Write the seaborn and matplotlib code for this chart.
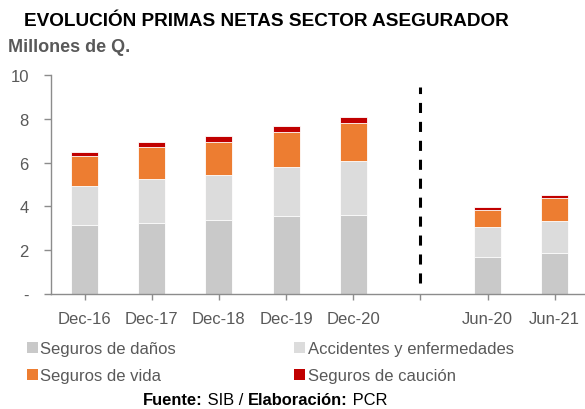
import matplotlib
matplotlib.use("Agg")
import matplotlib.pyplot as plt
from matplotlib.patches import Patch
from matplotlib.ticker import FuncFormatter
import seaborn as sns
import numpy as np

periods = ["Dec-16", "Dec-17", "Dec-18", "Dec-19", "Dec-20", "Jun-20", "Jun-21"]
order = ["Dec-16", "Dec-17", "Dec-18", "Dec-19", "Dec-20", " ", "Jun-20", "Jun-21"]
danos = [3.15, 3.24, 3.38, 3.56, 3.61, 1.70, 1.88]
accidentes = [1.80, 2.03, 2.06, 2.23, 2.48, 1.36, 1.47]
vida = [1.34, 1.43, 1.50, 1.63, 1.70, 0.77, 1.03]
caucion = [0.20, 0.25, 0.27, 0.26, 0.27, 0.14, 0.12]
series_names = ["Seguros de daños", "Accidentes y enfermedades", "Seguros de vida", "Seguros de caución"]
colors = ["#C9C9C9", "#DCDCDC", "#ED7D31", "#C00000"]
yticks = [0, 2, 4, 6, 8, 10]

sns.set_theme(style="white")
plt.rcParams["font.family"] = ["Liberation Sans", "DejaVu Sans"]
GREY = "#595959"

fig = plt.figure(figsize=(5.85, 4.1), dpi=100)
ax = fig.add_axes([51/585, 1-295/410, (585-51)/585, (295-76)/410])

layers = [danos, accidentes, vida, caucion]
cums = np.cumsum(np.array(layers), axis=0)
for i in range(len(layers)-1, -1, -1):
    sns.barplot(x=periods, y=cums[i], order=order, color=colors[i], saturation=1,
                width=0.4, edgecolor="white", linewidth=0.6, errorbar=None, ax=ax)

ax.set_xlim(-0.5, 7.45)
ax.set_ylim(0, 10)
ax.set_yticks(yticks)
ax.yaxis.set_major_formatter(FuncFormatter(lambda v, p: "-" if v == 0 else f"{int(v)}"))
ax.set_xlabel("")
ax.set_ylabel("")
for s in ["top", "right"]:
    ax.spines[s].set_visible(False)
for s in ["left", "bottom"]:
    ax.spines[s].set_color("#8C8C8C")
    ax.spines[s].set_linewidth(1.0)
ax.tick_params(axis="y", direction="out", length=5, width=1, color="#8C8C8C",
               labelsize=12, labelcolor=GREY, pad=11, left=True)
ax.tick_params(axis="x", direction="out", length=4, width=1, color="#8C8C8C",
               labelsize=12, labelcolor=GREY, pad=8, bottom=True)

# divider between annual and semester data
ax.vlines(5, 0.5, 9.45, colors="black", linestyles=(0, (3.3, 2.9)), linewidth=2.2)

fig.text(266/585, 1-22/410, "EVOLUCIÓN PRIMAS NETAS SECTOR ASEGURADOR", ha="center", va="center",
         fontsize=13.7, fontweight="bold", color="black")
fig.text(8/585, 1-47/410, "Millones de Q.", ha="left", va="center", fontsize=13,
         fontweight="bold", color=GREY)

handles = [Patch(facecolor=c, edgecolor="none") for c in colors]
leg_order = [0, 2, 1, 3]
fig.legend([handles[i] for i in leg_order], [series_names[i] for i in leg_order],
           ncol=2, loc="upper left", bbox_to_anchor=(27/585, 1-342/410), frameon=False,
           fontsize=12, handlelength=0.65, handleheight=0.65, handletextpad=0.15,
           columnspacing=7.1, labelspacing=0.75, borderpad=0, borderaxespad=0,
           labelcolor=GREY)

# footer with mixed weights
t1 = fig.text(143/585, 1-401/410, "Fuente:", ha="left", va="center", fontsize=11.9,
              fontweight="bold", color="black")
pieces = [(" SIB / ", "normal"), ("Elaboración:", "bold"), (" PCR", "normal")]
prev = t1
for txt, w in pieces:
    prev = ax.annotate(txt, xy=(1, 0), xycoords=prev, xytext=(0, 0), textcoords="offset points",
                       ha="left", va="bottom", fontsize=11.9, fontweight=w, color="black",
                       annotation_clip=False)

fig.savefig("out.png", dpi=100)
